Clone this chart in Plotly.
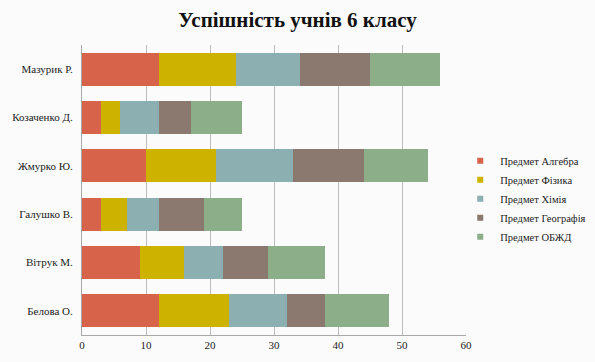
import plotly.graph_objects as go

students = ["Мазурик Р.", "Козаченко Д.", "Жмурко Ю.", "Галушко В.", "Вітрук М.", "Белова О."]
series_names = ["Предмет Алгебра", "Предмет Фізика", "Предмет Хімія", "Предмет Географія", "Предмет ОБЖД"]
algebra = [12, 3, 10, 3, 9, 12]
physics = [12, 3, 11, 4, 7, 11]
chemistry = [10, 6, 12, 5, 6, 9]
geography = [11, 5, 11, 7, 7, 6]
obzhd = [11, 8, 10, 6, 9, 10]
colors = ["#D6634A", "#CDB300", "#8CAFB2", "#8B796F", "#8CAE89"]
x_ticks = [0, 10, 20, 30, 40, 50, 60]

fig = go.Figure()
for name, vals, c in zip(series_names, [algebra, physics, chemistry, geography, obzhd], colors):
    fig.add_trace(go.Bar(y=students, x=vals, name=name, orientation="h", showlegend=False,
                         legendgroup=name, marker=dict(color=c, line=dict(width=0))))
# legend entries with small square swatches
for name, c in zip(series_names, colors):
    fig.add_trace(go.Scatter(x=[None], y=[None], mode="markers", name=name, legendgroup=name,
                             marker=dict(symbol="square", size=6, color=c)))

font_family = "Liberation Serif, DejaVu Serif, serif"
fig.update_layout(
    barmode="stack",
    bargap=0.32,
    width=595, height=362,
    margin=dict(l=82, r=129, t=45, b=27, autoexpand=False),
    paper_bgcolor="#FBFBFB",
    plot_bgcolor="#FBFBFB",
    font=dict(family=font_family, size=11, color="#222"),
    title=dict(text="<b>Успішність учнів 6 класу</b>", x=0.5, xanchor="center",
               y=0.945, yanchor="middle", font=dict(family=font_family, size=21, color="#111")),
    legend=dict(x=0.985, y=0.47, xanchor="left", yanchor="middle",
                font=dict(family=font_family, size=10.5, color="#222"),
                bgcolor="rgba(0,0,0,0)", itemwidth=30, tracegroupgap=0, traceorder="normal"),
    showlegend=True,
)
fig.update_xaxes(range=[0, 60], tickvals=x_ticks, showgrid=True, gridcolor="#BDBDBD", gridwidth=1,
                 showline=True, linecolor="#A8A8A8", linewidth=1, zeroline=False,
                 ticks="", tickfont=dict(size=11), ticklen=0)
fig.update_yaxes(autorange="reversed", showline=True, linecolor="#A8A8A8", linewidth=1,
                 showgrid=False, ticks="", ticklabelstandoff=6, tickfont=dict(size=11))

fig.write_html("out.html")
